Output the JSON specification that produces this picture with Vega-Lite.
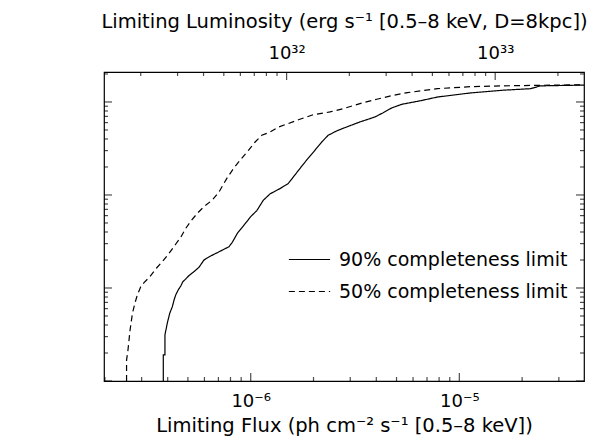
{
  "$schema": "https://vega.github.io/schema/vega-lite/v6.json",
  "width": 480,
  "height": 309,
  "autosize": {"type": "none"},
  "padding": {"left": 104, "top": 72, "right": 8, "bottom": 58},
  "background": "white",
  "config": {
    "view": {"stroke": "black", "strokeWidth": 1.2},
    "font": "DejaVu Sans",
    "axis": {
      "domain": false, "ticks": false,
      "labelColor": "black", "titleColor": "black", "labelFont": "DejaVu Sans", "titleFont": "DejaVu Sans",
      "labelFontSize": 18, "titleFontSize": 19.5, "titleFontWeight": "normal", "grid": false,
      "labelFlush": false, "labelOverlap": false
    }
  },
  "datasets": {
    "fluxMinor": [{"v": 2e-7}, {"v": 3e-7}, {"v": 4e-7}, {"v": 5e-7}, {"v": 6e-7}, {"v": 7e-7}, {"v": 8e-7}, {"v": 9e-7}, {"v": 2e-6}, {"v": 3e-6}, {"v": 4e-6}, {"v": 5e-6}, {"v": 6e-6}, {"v": 7e-6}, {"v": 8e-6}, {"v": 9e-6}, {"v": 2e-5}, {"v": 3e-5}],
    "fluxMajor": [{"v": 1e-6}, {"v": 1e-5}],
    "lumMinorAtFlux": [{"v": 2.97e-7}, {"v": 4.46e-7}, {"v": 5.94e-7}, {"v": 7.43e-7}, {"v": 8.92e-7}, {"v": 1.04e-6}, {"v": 1.189e-6}, {"v": 1.337e-6}, {"v": 2.97e-6}, {"v": 4.46e-6}, {"v": 5.94e-6}, {"v": 7.43e-6}, {"v": 8.92e-6}, {"v": 1.04e-5}, {"v": 1.189e-5}, {"v": 1.337e-5}, {"v": 2.97e-5}],
    "lumMajorAtFlux": [{"v": 1.486e-6}, {"v": 1.486e-5}],
    "areaMinor": [{"v": 0.002}, {"v": 0.003}, {"v": 0.004}, {"v": 0.005}, {"v": 0.006}, {"v": 0.007}, {"v": 0.008}, {"v": 0.009}, {"v": 0.02}, {"v": 0.03}, {"v": 0.04}, {"v": 0.05}, {"v": 0.06}, {"v": 0.07}, {"v": 0.08}, {"v": 0.09}, {"v": 0.2}, {"v": 0.3}, {"v": 0.4}, {"v": 0.5}, {"v": 0.6}, {"v": 0.7}, {"v": 0.8}, {"v": 0.9}, {"v": 2}],
    "areaMajor": [{"v": 0.001}, {"v": 0.01}, {"v": 0.1}, {"v": 1}]
  },
  "layer": [
    {
      "data": {"values": [
        {"series": "90% completeness limit", "F": 3.81e-7, "A": 0.001},
        {"series": "90% completeness limit", "F": 3.81e-7, "A": 0.00191},
        {"series": "90% completeness limit", "F": 3.88e-7, "A": 0.00191},
        {"series": "90% completeness limit", "F": 3.88e-7, "A": 0.00313},
        {"series": "90% completeness limit", "F": 3.98e-7, "A": 0.00417},
        {"series": "90% completeness limit", "F": 4.09e-7, "A": 0.00534},
        {"series": "90% completeness limit", "F": 4.21e-7, "A": 0.00629},
        {"series": "90% completeness limit", "F": 4.29e-7, "A": 0.00743},
        {"series": "90% completeness limit", "F": 4.37e-7, "A": 0.00841},
        {"series": "90% completeness limit", "F": 4.49e-7, "A": 0.00951},
        {"series": "90% completeness limit", "F": 4.62e-7, "A": 0.0105},
        {"series": "90% completeness limit", "F": 4.73e-7, "A": 0.0117},
        {"series": "90% completeness limit", "F": 4.88e-7, "A": 0.0125},
        {"series": "90% completeness limit", "F": 5.06e-7, "A": 0.0136},
        {"series": "90% completeness limit", "F": 5.35e-7, "A": 0.015},
        {"series": "90% completeness limit", "F": 5.65e-7, "A": 0.0167},
        {"series": "90% completeness limit", "F": 5.97e-7, "A": 0.02},
        {"series": "90% completeness limit", "F": 6.43e-7, "A": 0.0221},
        {"series": "90% completeness limit", "F": 7.05e-7, "A": 0.0245},
        {"series": "90% completeness limit", "F": 7.87e-7, "A": 0.0278},
        {"series": "90% completeness limit", "F": 8.16e-7, "A": 0.031},
        {"series": "90% completeness limit", "F": 8.63e-7, "A": 0.0387},
        {"series": "90% completeness limit", "F": 9.29e-7, "A": 0.0475},
        {"series": "90% completeness limit", "F": 1.0e-6, "A": 0.0585},
        {"series": "90% completeness limit", "F": 1.07e-6, "A": 0.068},
        {"series": "90% completeness limit", "F": 1.15e-6, "A": 0.088},
        {"series": "90% completeness limit", "F": 1.24e-6, "A": 0.103},
        {"series": "90% completeness limit", "F": 1.38e-6, "A": 0.117},
        {"series": "90% completeness limit", "F": 1.51e-6, "A": 0.132},
        {"series": "90% completeness limit", "F": 1.6e-6, "A": 0.156},
        {"series": "90% completeness limit", "F": 1.72e-6, "A": 0.192},
        {"series": "90% completeness limit", "F": 1.85e-6, "A": 0.236},
        {"series": "90% completeness limit", "F": 2.03e-6, "A": 0.302},
        {"series": "90% completeness limit", "F": 2.19e-6, "A": 0.371},
        {"series": "90% completeness limit", "F": 2.35e-6, "A": 0.438},
        {"series": "90% completeness limit", "F": 2.58e-6, "A": 0.488},
        {"series": "90% completeness limit", "F": 2.88e-6, "A": 0.538},
        {"series": "90% completeness limit", "F": 3.34e-6, "A": 0.61},
        {"series": "90% completeness limit", "F": 3.94e-6, "A": 0.69},
        {"series": "90% completeness limit", "F": 4.32e-6, "A": 0.767},
        {"series": "90% completeness limit", "F": 4.74e-6, "A": 0.862},
        {"series": "90% completeness limit", "F": 5.3e-6, "A": 0.944},
        {"series": "90% completeness limit", "F": 6.5e-6, "A": 1.03},
        {"series": "90% completeness limit", "F": 7.85e-6, "A": 1.13},
        {"series": "90% completeness limit", "F": 1.13e-5, "A": 1.25},
        {"series": "90% completeness limit", "F": 1.64e-5, "A": 1.34},
        {"series": "90% completeness limit", "F": 2.2e-5, "A": 1.39},
        {"series": "90% completeness limit", "F": 2.45e-5, "A": 1.49},
        {"series": "90% completeness limit", "F": 4.0e-5, "A": 1.52},
        {"series": "50% completeness limit", "F": 2.54e-7, "A": 0.001},
        {"series": "50% completeness limit", "F": 2.54e-7, "A": 0.00168},
        {"series": "50% completeness limit", "F": 2.58e-7, "A": 0.00216},
        {"series": "50% completeness limit", "F": 2.64e-7, "A": 0.00353},
        {"series": "50% completeness limit", "F": 2.71e-7, "A": 0.00534},
        {"series": "50% completeness limit", "F": 2.79e-7, "A": 0.00695},
        {"series": "50% completeness limit", "F": 2.86e-7, "A": 0.00841},
        {"series": "50% completeness limit", "F": 2.97e-7, "A": 0.0103},
        {"series": "50% completeness limit", "F": 3.08e-7, "A": 0.0114},
        {"series": "50% completeness limit", "F": 3.28e-7, "A": 0.0132},
        {"series": "50% completeness limit", "F": 3.53e-7, "A": 0.0163},
        {"series": "50% completeness limit", "F": 3.77e-7, "A": 0.0192},
        {"series": "50% completeness limit", "F": 4.06e-7, "A": 0.0236},
        {"series": "50% completeness limit", "F": 4.34e-7, "A": 0.029},
        {"series": "50% completeness limit", "F": 4.62e-7, "A": 0.0351},
        {"series": "50% completeness limit", "F": 4.88e-7, "A": 0.0438},
        {"series": "50% completeness limit", "F": 5.21e-7, "A": 0.0538},
        {"series": "50% completeness limit", "F": 5.55e-7, "A": 0.0636},
        {"series": "50% completeness limit", "F": 5.97e-7, "A": 0.0749},
        {"series": "50% completeness limit", "F": 6.55e-7, "A": 0.0883},
        {"series": "50% completeness limit", "F": 7.05e-7, "A": 0.108},
        {"series": "50% completeness limit", "F": 7.67e-7, "A": 0.15},
        {"series": "50% completeness limit", "F": 8.26e-7, "A": 0.192},
        {"series": "50% completeness limit", "F": 8.89e-7, "A": 0.236},
        {"series": "50% completeness limit", "F": 9.75e-7, "A": 0.302},
        {"series": "50% completeness limit", "F": 1.05e-6, "A": 0.371},
        {"series": "50% completeness limit", "F": 1.13e-6, "A": 0.438},
        {"series": "50% completeness limit", "F": 1.24e-6, "A": 0.476},
        {"series": "50% completeness limit", "F": 1.36e-6, "A": 0.538},
        {"series": "50% completeness limit", "F": 1.51e-6, "A": 0.585},
        {"series": "50% completeness limit", "F": 1.72e-6, "A": 0.651},
        {"series": "50% completeness limit", "F": 2.0e-6, "A": 0.731},
        {"series": "50% completeness limit", "F": 2.4e-6, "A": 0.781},
        {"series": "50% completeness limit", "F": 2.78e-6, "A": 0.848},
        {"series": "50% completeness limit", "F": 3.34e-6, "A": 0.96},
        {"series": "50% completeness limit", "F": 4.02e-6, "A": 1.07},
        {"series": "50% completeness limit", "F": 4.83e-6, "A": 1.18},
        {"series": "50% completeness limit", "F": 5.64e-6, "A": 1.26},
        {"series": "50% completeness limit", "F": 7.85e-6, "A": 1.39},
        {"series": "50% completeness limit", "F": 1.13e-5, "A": 1.46},
        {"series": "50% completeness limit", "F": 1.64e-5, "A": 1.49},
        {"series": "50% completeness limit", "F": 2.37e-5, "A": 1.51},
        {"series": "50% completeness limit", "F": 4.0e-5, "A": 1.53}
      ]},
      "mark": {"type": "line", "color": "black", "strokeWidth": 1.2, "clip": true},
      "encoding": {
        "x": {
          "field": "F", "type": "quantitative",
          "scale": {"type": "log", "domain": [1.98e-7, 3.96e-5], "nice": false},
          "axis": {
            "orient": "bottom",
            "title": "Limiting Flux (ph cm⁻² s⁻¹ [0.5–8 keV])",
            "values": [1e-6, 1e-5],
            "labelExpr": "datum.value < 5e-6 ? '10⁻⁶' : '10⁻⁵'",
            "labelPadding": 11,
            "titlePadding": 6
          }
        },
        "y": {
          "field": "A", "type": "quantitative",
          "scale": {"type": "log", "domain": [0.001, 2.1], "nice": false},
          "axis": {
            "orient": "left",
            "title": "Survey Area (deg²)",
            "values": [0.001, 0.01, 0.1, 1],
            "format": ".3f",
            "labelPadding": 9,
            "titlePadding": 13
          }
        },
        "strokeDash": {
          "field": "series", "type": "nominal",
          "scale": {"domain": ["90% completeness limit", "50% completeness limit"], "range": [[1, 0], [6, 4]]},
          "legend": {
            "orient": "none", "legendX": 184, "legendY": 166, "title": null,
            "symbolType": "stroke", "symbolSize": 1700, "symbolStrokeWidth": 1.2, "symbolStrokeColor": "black",
            "labelFontSize": 19, "labelColor": "black", "labelFont": "DejaVu Sans", "labelLimit": 400,
            "rowPadding": -13, "labelOffset": 8
          }
        }
      }
    },
    {
      "data": {"name": "fluxMajor"},
      "mark": {"type": "tick", "orient": "vertical", "size": 8, "yOffset": -4, "thickness": 1.2, "color": "black"},
      "encoding": {
        "x": {"field": "v", "type": "quantitative", "axis": null},
        "y": {"datum": 0.001, "type": "quantitative", "axis": null}
      }
    },
    {
      "data": {"name": "fluxMinor"},
      "mark": {"type": "tick", "orient": "vertical", "size": 4, "yOffset": -2, "thickness": 1.2, "color": "black"},
      "encoding": {
        "x": {"field": "v", "type": "quantitative", "axis": null},
        "y": {"datum": 0.001, "type": "quantitative", "axis": null}
      }
    },
    {
      "data": {"name": "lumMinorAtFlux"},
      "mark": {"type": "tick", "orient": "vertical", "size": 4, "yOffset": 2, "thickness": 1.2, "color": "black"},
      "encoding": {
        "x": {"field": "v", "type": "quantitative", "axis": null},
        "y": {"datum": 2.1, "type": "quantitative", "axis": null}
      }
    },
    {
      "data": {"name": "areaMajor"},
      "mark": {"type": "tick", "orient": "horizontal", "size": 8, "xOffset": 4, "thickness": 1.2, "color": "black"},
      "encoding": {
        "x": {"datum": 1.98e-7, "type": "quantitative", "axis": null},
        "y": {"field": "v", "type": "quantitative", "axis": null}
      }
    },
    {
      "data": {"name": "areaMinor"},
      "mark": {"type": "tick", "orient": "horizontal", "size": 4, "xOffset": 2, "thickness": 1.2, "color": "black"},
      "encoding": {
        "x": {"datum": 1.98e-7, "type": "quantitative", "axis": null},
        "y": {"field": "v", "type": "quantitative", "axis": null}
      }
    },
    {
      "data": {"name": "areaMajor"},
      "mark": {"type": "tick", "orient": "horizontal", "size": 8, "xOffset": -4, "thickness": 1.2, "color": "black"},
      "encoding": {
        "x": {"datum": 3.96e-5, "type": "quantitative", "axis": null},
        "y": {"field": "v", "type": "quantitative", "axis": null}
      }
    },
    {
      "data": {"name": "areaMinor"},
      "mark": {"type": "tick", "orient": "horizontal", "size": 4, "xOffset": -2, "thickness": 1.2, "color": "black"},
      "encoding": {
        "x": {"datum": 3.96e-5, "type": "quantitative", "axis": null},
        "y": {"field": "v", "type": "quantitative", "axis": null}
      }
    },
    {
      "data": {"name": "lumMajorAtFlux"},
      "mark": {"type": "tick", "orient": "vertical", "size": 8, "yOffset": 4, "thickness": 1.2, "color": "black"},
      "encoding": {
        "x": {
          "field": "v", "type": "quantitative",
          "axis": {
            "orient": "top",
            "title": "Limiting Luminosity (erg s⁻¹ [0.5–8 keV, D=8kpc])",
            "values": [1.486e-6, 1.486e-5],
            "labelExpr": "datum.value < 5e-6 ? '10³²' : '10³³'",
            "labelPadding": 10,
            "titlePadding": 13
          }
        },
        "y": {"datum": 2.1, "type": "quantitative", "axis": null}
      }
    }
  ],
  "resolve": {"axis": {"x": "independent"}}
}
